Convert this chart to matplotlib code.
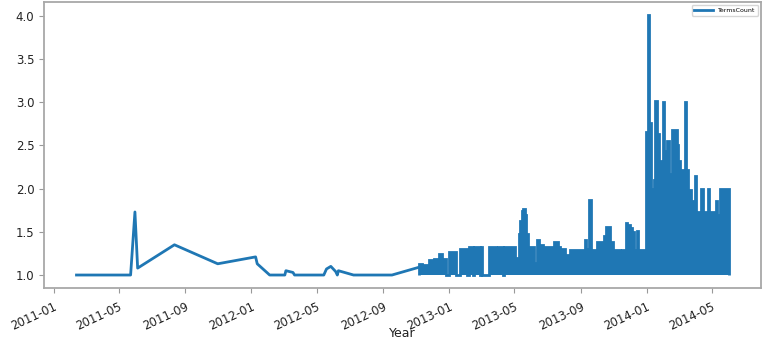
import matplotlib
matplotlib.use("Agg")
import matplotlib.pyplot as plt
import matplotlib.dates as mdates
import pandas as pd

# sparse early part of the series (2011 - late 2012)
early_dates = ["2011-02-12", "2011-05-23", "2011-05-31", "2011-06-05", "2011-08-12",
               "2011-10-31", "2012-01-09", "2012-01-12", "2012-02-04", "2012-03-03",
               "2012-03-05", "2012-03-18", "2012-03-21", "2012-05-14", "2012-05-19",
               "2012-05-27", "2012-06-05", "2012-06-08", "2012-06-10", "2012-07-08",
               "2012-09-17", "2012-11-06"]
early_counts = [1.0, 1.0, 1.73, 1.08, 1.35,
                1.13, 1.21, 1.13, 1.0, 1.0,
                1.05, 1.03, 1.0, 1.0, 1.07,
                1.10, 1.04, 1.0, 1.05, 1.0,
                1.0, 1.09]

# dense part: upper envelope of the daily values (they drop back to 1.0 in between)
dense_dates = ["2012-11-06", "2012-11-11", "2012-11-15", "2012-11-24", "2012-12-04",
               "2012-12-12", "2012-12-19", "2012-12-25", "2012-12-31", "2013-01-13",
               "2013-01-21", "2013-02-02", "2013-02-06", "2013-02-13", "2013-02-15",
               "2013-02-26", "2013-02-28", "2013-03-03", "2013-03-15", "2013-03-28",
               "2013-04-01", "2013-04-10", "2013-04-12", "2013-05-03", "2013-05-09",
               "2013-05-12", "2013-05-15", "2013-05-18", "2013-05-21", "2013-05-23",
               "2013-05-27", "2013-06-06", "2013-06-12", "2013-06-15", "2013-06-24",
               "2013-07-13", "2013-07-20", "2013-07-25", "2013-08-03", "2013-08-12",
               "2013-09-08", "2013-09-11", "2013-09-17", "2013-09-19", "2013-10-01",
               "2013-10-13", "2013-10-18", "2013-10-25", "2013-10-31", "2013-11-13",
               "2013-11-16", "2013-11-23", "2013-11-25", "2013-11-28", "2013-11-30",
               "2013-12-03", "2013-12-05", "2013-12-07", "2013-12-09", "2013-12-14",
               "2013-12-16", "2013-12-31", "2014-01-03", "2014-01-05", "2014-01-08",
               "2014-01-14", "2014-01-17", "2014-01-19", "2014-01-24", "2014-01-28",
               "2014-01-31", "2014-02-02", "2014-02-08", "2014-02-11", "2014-02-17",
               "2014-02-25", "2014-02-28", "2014-03-03", "2014-03-08", "2014-03-12",
               "2014-03-14", "2014-03-18", "2014-03-24", "2014-03-31", "2014-04-02",
               "2014-04-12", "2014-04-14", "2014-04-24", "2014-04-26", "2014-05-09",
               "2014-05-11", "2014-05-16", "2014-06-02"]
# value holding from each date until the next one
dense_tops = [1.13, 1.08, 1.12, 1.17, 1.18,
              1.24, 1.19, 1.0, 1.27, 1.0,
              1.30, 1.0, 1.33, 1.0, 1.33,
              1.0, 1.33, 1.0, 1.33, 1.20,
              1.33, 1.0, 1.33, 1.20, 1.48,
              1.62, 1.74, 1.76, 1.70, 1.48,
              1.33, 1.14, 1.40, 1.35, 1.33,
              1.38, 1.33, 1.30, 1.23, 1.29,
              1.40, 1.30, 1.87, 1.29, 1.38,
              1.45, 1.56, 1.38, 1.29, 1.14,
              1.29, 1.60, 1.29, 1.58, 1.29,
              1.54, 1.29, 1.50, 1.29, 1.51,
              1.29, 2.66, 4.01, 2.76, 2.00,
              2.10, 3.01, 2.63, 2.32, 2.17,
              3.00, 2.43, 2.55, 2.17, 2.68,
              2.51, 2.32, 2.22, 2.10, 3.00,
              2.22, 1.98, 1.86, 2.15, 1.73,
              2.00, 1.73, 2.00, 1.73, 1.86,
              1.69, 2.00]
base_value = 1.0

early_x = pd.to_datetime(early_dates)
dense_edges = mdates.date2num(pd.to_datetime(dense_dates).to_pydatetime())

blue = "#1f77b4"
fig = plt.figure(figsize=(7.63, 3.4), dpi=100)
ax = fig.add_axes([0.0577, 0.153, 0.9397, 0.841])

ax.plot(early_x, early_counts, color=blue, lw=2, label="TermsCount")
# filled body + outline of the dense burst region
ax.stairs(dense_tops, dense_edges, baseline=base_value, fill=True, color=blue, lw=0)
ax.stairs(dense_tops, dense_edges, baseline=base_value, fill=False, color=blue, lw=2)

ax.set_xlim(pd.Timestamp("2010-12-14"), pd.Timestamp("2014-07-31"))
ax.set_ylim(0.85, 4.16)
ax.set_yticks([1.0, 1.5, 2.0, 2.5, 3.0, 3.5, 4.0])

ax.xaxis.set_major_locator(mdates.MonthLocator(bymonth=[1, 5, 9]))
ax.xaxis.set_major_formatter(mdates.DateFormatter("%Y-%m"))
for lbl in ax.get_xticklabels():
    lbl.set_rotation(25)
    lbl.set_ha("right")
    lbl.set_rotation_mode("anchor")
ax.tick_params(labelsize=8.5, colors="#222222")
ax.tick_params(color="#999999")
ax.tick_params(axis="x", pad=5)
for s in ax.spines.values():
    s.set_color("#a8a8a8")
    s.set_linewidth(1.3)

ax.set_xlabel("Year", fontsize=9, color="#222222")
ax.xaxis.set_label_coords(0.5, -0.135)

ax.legend(loc="upper right", fontsize=4.5, handlelength=3)

fig.savefig("out.png", dpi=100)
